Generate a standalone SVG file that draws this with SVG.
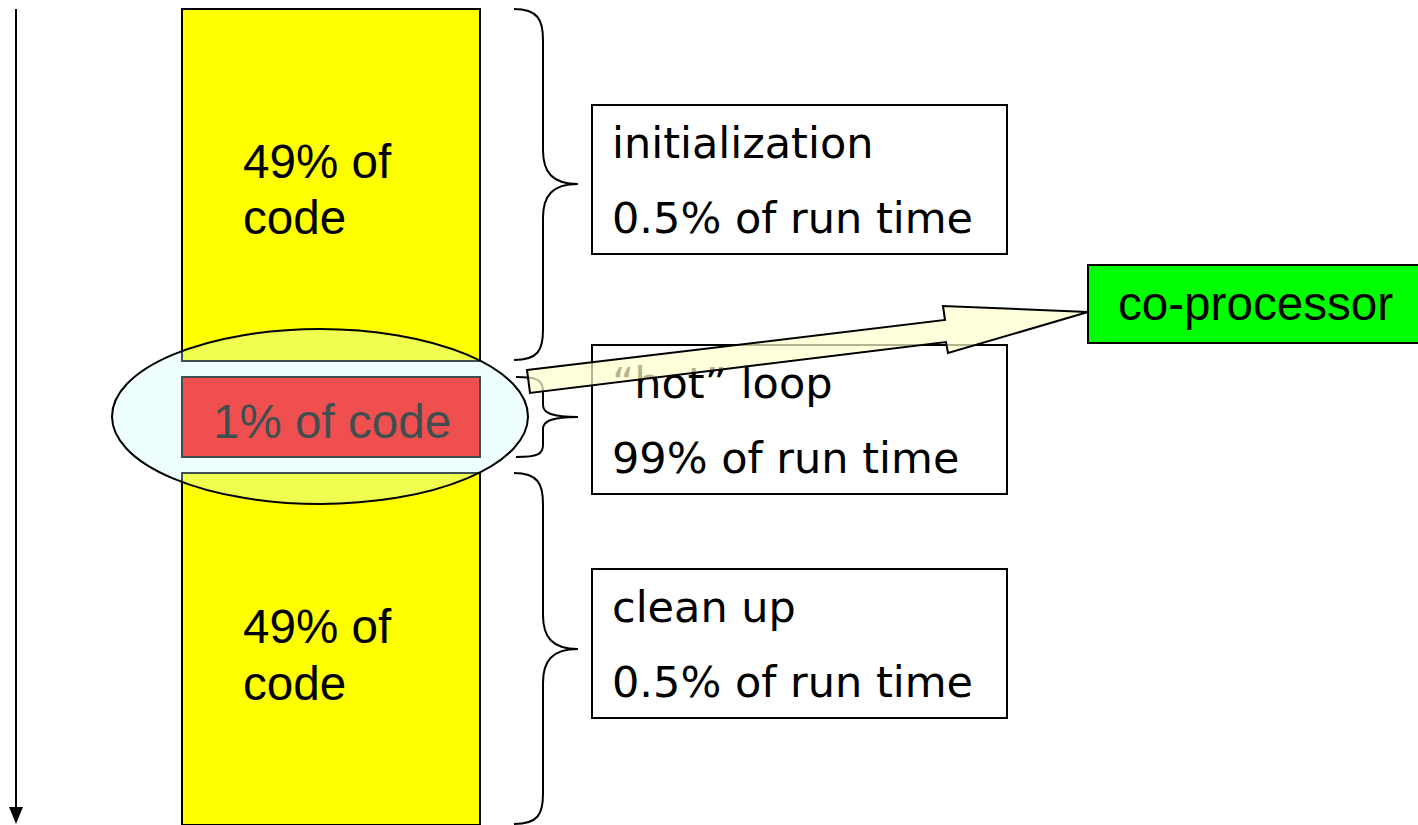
<svg xmlns="http://www.w3.org/2000/svg" width="1418" height="825" viewBox="0 0 1418 825">
<style>
.code{fill:#ffff00;stroke:#000;stroke-width:2}
.hot{fill:#ff0000;stroke:#000;stroke-width:2}
.ct{font-family:"Liberation Sans",Arial,sans-serif;font-size:47.6px;fill:#000}
.box{fill:#fff;stroke:#000;stroke-width:2}
.bt{font-family:"DejaVu Sans",Verdana,sans-serif;font-size:43px;fill:#000}
.brace{fill:none;stroke:#000;stroke-width:2}
</style>
<rect width="1418" height="825" fill="#fff"/>
<g id="timeline">
<line x1="16" y1="9" x2="16" y2="809" stroke="#000" stroke-width="2"/>
<polygon points="9,807 23,807 16,824" fill="#000"/>
</g>
<g id="code-top">
<rect class="code" x="182" y="9" width="298" height="352"/>
<text class="ct" x="243" y="178">49% of</text>
<text class="ct" x="243" y="234">code</text>
</g>
<g id="code-hot">
<rect class="hot" x="182" y="377" width="298" height="80"/>
<text class="ct" x="213" y="438">1% of code</text>
</g>
<g id="code-bottom">
<rect class="code" x="182" y="473" width="298" height="352"/>
<text class="ct" x="243" y="643">49% of</text>
<text class="ct" x="243" y="700">code</text>
</g>
<g id="highlight">
<ellipse cx="320" cy="416.5" rx="208" ry="87.5" fill="#ccffff" fill-opacity="0.31" stroke="#000" stroke-width="2"/>
</g>
<g id="braces">
<path class="brace" d="M514,9 C538,9 543,20 543,40 L543,150 C543,172 552,184 578,184 C552,184 543,196 543,218 L543,330 C543,350 538,360 514,360"/>
<path class="brace" d="M516,377 C538,377 543,380 543,392 L543,405 C543,413 552,417 578,417 C552,417 543,421 543,429 L543,445 C543,454 538,457 516,457"/>
<path class="brace" d="M514,473 C538,473 543,484 543,504 L543,615 C543,637 552,649 578,649 C552,649 543,661 543,683 L543,794 C543,814 538,824 514,824"/>
</g>
<g id="init">
<rect class="box" x="592" y="105" width="415" height="149"/>
<text class="bt" x="612" y="158">initialization</text>
<text class="bt" x="612" y="233">0.5% of run time</text>
</g>
<g id="loop">
<rect class="box" x="592" y="345" width="415" height="149"/>
<text class="bt" x="612" y="398">“hot” loop</text>
<text class="bt" x="612" y="473">99% of run time</text>
</g>
<g id="cleanup">
<rect class="box" x="592" y="569" width="415" height="149"/>
<text class="bt" x="612" y="622">clean up</text>
<text class="bt" x="612" y="697">0.5% of run time</text>
</g>
<g id="coprocessor">
<rect x="1088" y="265" width="332" height="78" fill="#00ff00" stroke="#000" stroke-width="2"/>
<text class="ct" x="1118" y="320">co-processor</text>
</g>
<g id="connectors">
<polygon points="527,370 945,320 943,306 1088,312 948,353 946,342 530,393" fill="#ffffcc" fill-opacity="0.7" stroke="#000" stroke-width="2" stroke-linejoin="miter"/>
</g>
</svg>
